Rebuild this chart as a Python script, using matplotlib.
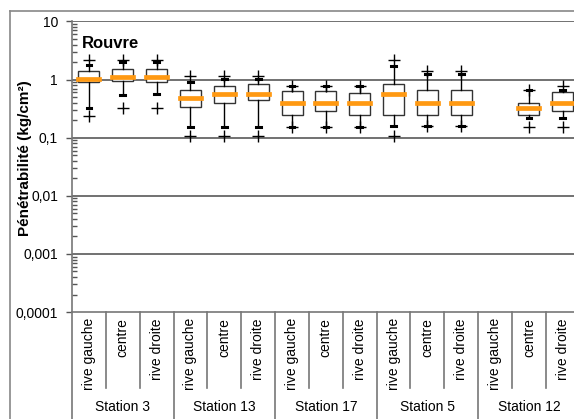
import matplotlib
matplotlib.use("Agg")
import matplotlib.pyplot as plt
from matplotlib.lines import Line2D
import matplotlib.transforms as mtransforms

plt.rcParams['font.family'] = ['Liberation Sans', 'DejaVu Sans']

stations = ["Station 3", "Station 13", "Station 17", "Station 5", "Station 12"]
sides = ["rive gauche", "centre", "rive droite"]
y_ticks = [0.0001, 0.001, 0.01, 0.1, 1, 10]
y_ticklabels = ["0,0001", "0,001", "0,01", "0,1", "1", "10"]

# box statistics per category (None = no data)
whislo = [0.33, 0.54, 0.575, 0.152, 0.152, 0.152, 0.155, 0.155, 0.155, 0.16, 0.16, 0.16, None, 0.22, 0.22]
q1     = [0.90, 0.93, 0.90, 0.34, 0.40, 0.44, 0.25, 0.29, 0.25, 0.25, 0.25, 0.25, None, 0.25, 0.29]
med    = [1.03, 1.09, 1.09, 0.48, 0.575, 0.575, 0.40, 0.40, 0.40, 0.575, 0.40, 0.40, None, 0.32, 0.40]
q3     = [1.43, 1.54, 1.54, 0.67, 0.78, 0.83, 0.64, 0.64, 0.59, 0.83, 0.67, 0.67, None, 0.39, 0.60]
whishi = [1.8, 1.98, 1.98, 0.91, 1.04, 1.04, 0.77, 0.77, 0.77, 1.74, 1.27, 1.27, None, 0.65, 0.67]
fliers = [[0.235, 2.14], [0.33, 2.14], [0.33, 2.14], [0.105, 1.14], [0.105, 1.14], [0.105, 1.14],
          [0.155, 0.77], [0.155, 0.77], [0.155, 0.77], [0.105, 2.2], [0.16, 1.4], [0.16, 1.4],
          [], [0.155, 0.65], [0.155, 0.79]]

W, H = 574, 419
fig = plt.figure(figsize=(W / 100, H / 100), dpi=100)
ax = fig.add_axes([72 / W, 1 - 312 / H, 1 - 72 / W + 0.01, (312 - 21.5) / H])

stats, positions = [], []
for i in range(len(med)):
    if med[i] is None:
        continue
    stats.append(dict(whislo=whislo[i], q1=q1[i], med=med[i], q3=q3[i], whishi=whishi[i], fliers=fliers[i]))
    positions.append(i + 1)

ax.bxp(stats, positions=positions, widths=0.62, capwidths=0.14, patch_artist=True,
       boxprops=dict(facecolor='white', edgecolor='#333333', linewidth=1.0),
       whiskerprops=dict(color='black', linewidth=1.0),
       capprops=dict(color='black', linewidth=2.2),
       medianprops=dict(color='#FF9912', linewidth=3.4, solid_capstyle='projecting'),
       flierprops=dict(marker='+', markersize=9, markeredgecolor='black', markeredgewidth=1.0))

ax.set_yscale('log')
ax.set_ylim(1e-4, 10)
ax.set_xlim(0.5, 15.5)
ax.set_yticks(y_ticks)
ax.set_yticklabels(y_ticklabels, fontsize=10)
ax.yaxis.set_minor_locator(matplotlib.ticker.LogLocator(base=10, subs=range(2, 10), numticks=20))
ax.yaxis.set_minor_formatter(matplotlib.ticker.NullFormatter())
ax.tick_params(axis='y', which='major', direction='out', length=4, width=1, color='#555555', pad=6)
ax.tick_params(axis='y', which='minor', direction='in', length=3.5, width=1, color='#555555')
ax.set_xticks([])

for v in y_ticks[1:]:
    ax.axhline(v, color='#666666', linewidth=1.3, zorder=0.5)

for s in ['right', 'top']:
    ax.spines[s].set_visible(False)
ax.spines['left'].set_color('#777777')
ax.spines['bottom'].set_color('#777777')
ax.spines['left'].set_linewidth(1.2)
ax.spines['bottom'].set_linewidth(1.2)

# category labels and separators
trans = mtransforms.blended_transform_factory(ax.transData, ax.transAxes)
ax_h = (312 - 21.5)
for gi, st in enumerate(stations):
    for si, sd in enumerate(sides):
        x = gi * 3 + si + 1
        ax.text(x, -6 / ax_h, sd, rotation=90, ha='center', va='top', fontsize=10,
                transform=trans, clip_on=False)
    ax.text(gi * 3 + 2, -95 / ax_h, st, ha='center', va='center', fontsize=10,
            transform=trans, clip_on=False)
for k in range(16):
    xb = k + 0.5
    y1 = -76 / ax_h if k % 3 else -110 / ax_h
    ax.add_line(Line2D([xb, xb], [0, y1], transform=trans, color='#777777',
                       linewidth=1.2, clip_on=False))

ax.text(82 / W, 1 - 43 / H, "Rouvre", transform=fig.transFigure, fontsize=12,
        fontweight='bold', va='center', ha='left')
fig.text(25 / W, 1 - 158 / H, "Pénétrabilité (kg/cm²)", rotation=90, fontsize=11,
         fontweight='bold', ha='center', va='center')

# outer frame
fig.add_artist(Line2D([10 / W, 10 / W], [0, 1 - 11 / H], transform=fig.transFigure,
                      color='#888888', linewidth=1.2))
fig.add_artist(Line2D([10 / W, 1], [1 - 11 / H, 1 - 11 / H], transform=fig.transFigure,
                      color='#888888', linewidth=1.2))

fig.savefig("out.png", dpi=100)
